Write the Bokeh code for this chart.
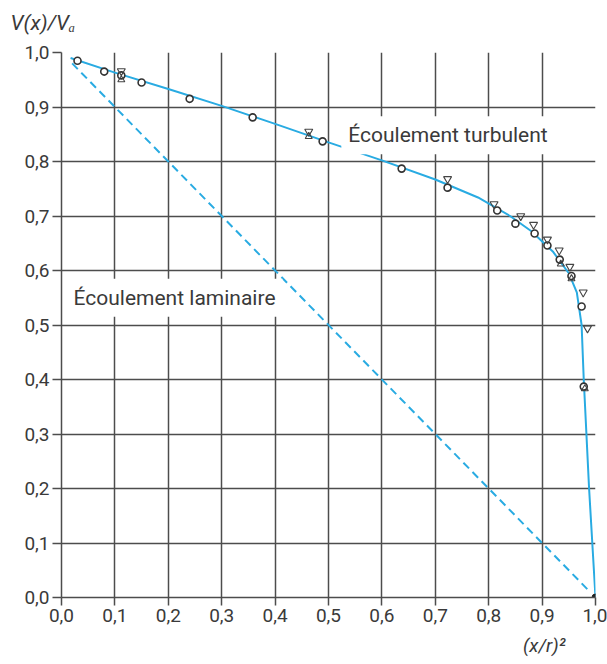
from bokeh.plotting import figure
from bokeh.models import FixedTicker, Label, Range1d, Title
from bokeh.embed import file_html
from bokeh.resources import INLINE

# --- data ---
ticks = [0.0, 0.1, 0.2, 0.3, 0.4, 0.5, 0.6, 0.7, 0.8, 0.9, 1.0]
tick_labels = ["0,0", "0,1", "0,2", "0,3", "0,4", "0,5", "0,6", "0,7", "0,8", "0,9", "1,0"]

turb_x = [0.017, 0.1, 0.2, 0.3, 0.4, 0.5, 0.6, 0.7, 0.78, 0.84, 0.88, 0.92, 0.95, 0.965, 0.974, 0.978, 0.988, 1.0]
turb_y = [0.99, 0.963, 0.933, 0.902, 0.869, 0.835, 0.802, 0.767, 0.734, 0.700, 0.672, 0.635, 0.595, 0.56, 0.50, 0.40, 0.2, 0.0]

lam_x = [0.02, 0.99]
lam_y = [0.98, 0.01]

circ_x = [0.03, 0.08, 0.112, 0.15, 0.24, 0.358, 0.489, 0.637, 0.723, 0.816, 0.85, 0.886, 0.91, 0.933, 0.955, 0.974, 0.978]
circ_y = [0.985, 0.965, 0.958, 0.945, 0.915, 0.881, 0.837, 0.787, 0.752, 0.71, 0.686, 0.668, 0.646, 0.62, 0.59, 0.534, 0.387]

tri_dn_x = [0.112, 0.463, 0.723, 0.81, 0.86, 0.884, 0.91, 0.932, 0.952, 0.977, 0.985]
tri_dn_y = [0.966, 0.855, 0.768, 0.722, 0.70, 0.684, 0.657, 0.637, 0.607, 0.56, 0.494]

tri_up_x = [0.112, 0.463, 0.935, 0.955, 0.98]
tri_up_y = [0.950, 0.846, 0.612, 0.585, 0.383]

end_x = [1.0]
end_y = [0.0]

FONT = "Roboto"
TXT = "#3a3a3a"
BLUE = "#29abe2"
GRID = "#4d4d4d"

p = figure(width=607, height=664, output_backend="svg", toolbar_location=None,
           x_range=Range1d(0, 1.0), y_range=Range1d(0, 1.0),
           min_border_left=61, min_border_right=12, min_border_top=52, min_border_bottom=67)
p.outline_line_color = None
p.background_fill_color = "white"

# spacer between frame and y title (nearest the frame)
p.add_layout(Title(text=" ", text_font_size="14px", standoff=0), "above")
p.add_layout(Title(text="V(x)/Vₐ", align="left", offset=-51, text_font=FONT, text_font_size="21px",
                   text_font_style="italic", text_color=TXT, standoff=0), "above")

for ax in (p.xaxis[0], p.yaxis[0]):
    ax.ticker = FixedTicker(ticks=ticks)
    ax.major_label_overrides = {t: l for t, l in zip(ticks, tick_labels)}
    ax.major_label_text_font = FONT
    ax.major_label_text_font_size = "19px"
    ax.major_label_text_color = TXT
    ax.axis_line_color = GRID
    ax.axis_line_width = 1.5
    ax.major_tick_line_color = GRID
    ax.major_tick_line_width = 1.5
    ax.major_tick_in = 0
    ax.minor_tick_line_color = None
p.xaxis.major_tick_out = 8
p.xaxis.major_label_standoff = 3
p.yaxis.major_tick_out = 9
p.yaxis.major_label_standoff = 3

p.add_layout(Title(text="(x/r)²", align="right", offset=30, text_font=FONT, text_font_size="19px",
                   text_font_style="italic", text_color=TXT, standoff=14), "below")

for g in (p.xgrid[0], p.ygrid[0]):
    g.ticker = FixedTicker(ticks=ticks)
    g.grid_line_color = GRID
    g.grid_line_width = 1.5

p.line(lam_x, lam_y, line_color=BLUE, line_width=2, line_dash="8 5")
p.line(turb_x, turb_y, line_color=BLUE, line_width=2)

p.scatter(circ_x, circ_y, marker="circle", size=7, line_color="#333333", line_width=1.6, fill_color="white")
p.scatter(tri_dn_x, tri_dn_y, marker="inverted_triangle", size=8, line_color="#444444", line_width=1.1, fill_color=None)
p.scatter(tri_up_x, tri_up_y, marker="triangle", size=7, line_color="#444444", line_width=1.1, fill_color=None)
p.scatter(end_x, end_y, marker="circle", size=7, line_color="#222222", fill_color="#222222")

p.add_layout(Label(x=0.524, y=0.848, text="Écoulement turbulent", text_font=FONT, text_font_size="21px",
                   text_color=TXT, text_baseline="middle", background_fill_color="white", padding=7))
p.add_layout(Label(x=0.0094, y=0.550, text="Écoulement laminaire", text_font=FONT, text_font_size="21px",
                   text_color=TXT, text_baseline="middle", background_fill_color="white", padding=7))

open("out.html", "w").write(file_html(p, INLINE))
